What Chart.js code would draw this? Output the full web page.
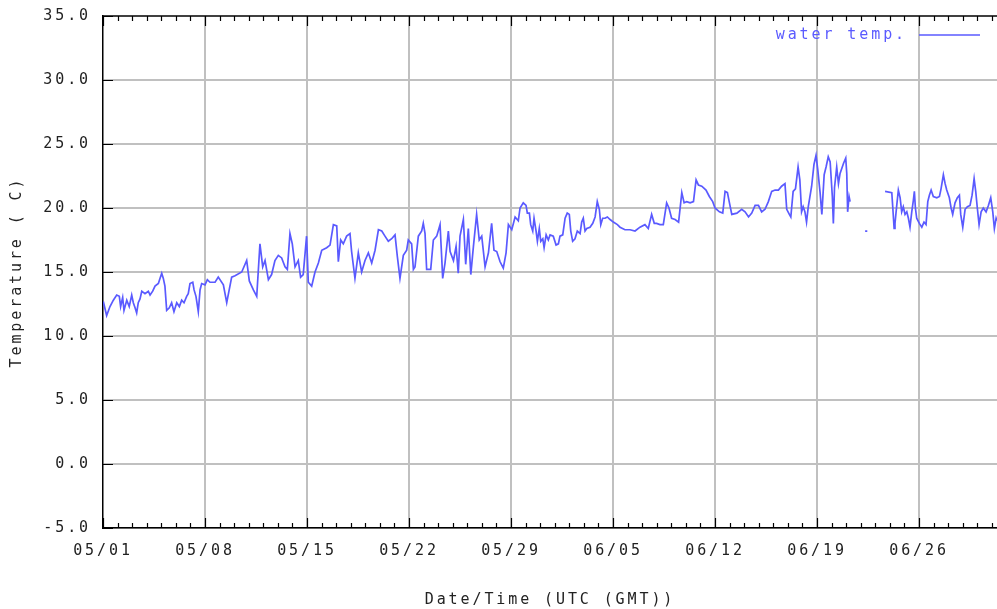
<!DOCTYPE html>
<html>
<head>
<meta charset="utf-8">
<script src="https://cdn.jsdelivr.net/npm/chart.js@4.4.1/dist/chart.umd.min.js"></script>
<style>
  html, body { margin: 0; padding: 0; background: #fff; }
  #wrap { width: 997px; height: 609px; }
</style>
</head>
<body>
<div id="wrap"><canvas id="tempChart" width="997" height="609"></canvas></div>
<script>
// days since 05/01 00:00 UTC; a null temp marks a gap in the record
const days = [
  0.02, 0.25, 0.48, 0.71, 0.94, 1.12, 1.21, 1.35, 1.44, 1.63, 1.8, 1.97, 2.08, 2.2, 2.31, 2.42, 2.54, 2.66, 2.88, 3.11,
  3.23, 3.41, 3.57, 3.8, 3.91, 4.03, 4.14, 4.25, 4.37, 4.55, 4.71, 4.87, 5.06, 5.24, 5.4, 5.56, 5.74, 5.85, 5.97, 6.16,
  6.25, 6.38, 6.54, 6.66, 6.77, 7.0, 7.16, 7.34,
  7.69, 7.91, 8.26, 8.49, 8.83, 9.06, 9.52, 9.86, 10.04, 10.32, 10.55, 10.77, 10.96, 11.12, 11.35, 11.57, 11.8, 12.03, 12.26, 12.49,
  12.65, 12.83, 12.99, 13.18, 13.4, 13.56, 13.74, 13.97, 14.09, 14.32, 14.55, 14.78, 15.01, 15.35, 15.58, 15.81, 16.04, 16.15, 16.31, 16.49,
  16.72, 16.95, 17.06, 17.29, 17.52, 17.75, 17.98, 18.21, 18.44, 18.67, 18.9, 19.13, 19.35, 19.58, 19.81, 20.04, 20.2, 20.38, 20.61, 20.84,
  20.95, 21.18, 21.3, 21.41, 21.64, 21.87, 21.98, 22.1, 22.21, 22.49, 22.67, 22.9, 23.13, 23.24, 23.31, 23.47, 23.7, 23.82, 24.05, 24.23,
  24.38, 24.5, 24.73, 24.89, 25.07, 25.24, 25.42, 25.64, 25.82, 25.99, 26.22, 26.45, 26.67, 26.83, 27.02, 27.25, 27.47, 27.66, 27.82, 28.05,
  28.28, 28.5,
  28.62, 28.84, 29.03, 29.12, 29.26, 29.35, 29.49, 29.58, 29.72, 29.81, 29.94, 30.04, 30.18, 30.27, 30.41, 30.56, 30.68, 30.9, 31.09, 31.25,
  31.36, 31.55, 31.71, 31.86, 32.0, 32.1, 32.23, 32.39, 32.55, 32.74, 32.85, 32.96, 33.08, 33.2, 33.42, 33.61, 33.77, 33.92, 34.06, 34.16,
  34.29, 34.45, 34.61, 34.8, 35.02, 35.3,
  35.48, 35.82, 36.17, 36.51, 36.85, 37.19, 37.42, 37.65, 37.83, 37.99, 38.22,
  38.45, 38.68, 38.84, 39.02, 39.26, 39.5, 39.72, 39.88, 40.06, 40.29, 40.52, 40.7, 40.86, 41.09, 41.38, 41.61, 41.84, 42.0, 42.3, 42.53,
  42.69, 42.85, 42.99, 43.15, 43.5, 43.83, 44.06, 44.3, 44.52, 44.75, 44.98, 45.2, 45.43, 45.66, 45.89, 46.12, 46.35, 46.57, 46.8, 46.92,
  47.1, 47.2, 47.36, 47.52, 47.7, 47.82, 47.94, 48.05, 48.17, 48.28, 48.4, 48.63, 48.79, 48.93, 49.05, 49.21, 49.33, 49.49, 49.62, 49.77,
  49.9, 50.05, 50.12, 50.2, 50.35, 50.47, 50.58, 50.82, 50.97, 51.04, 51.1, 51.2, 51.27, 51.8, 52.3, 52.45, 53.0,
  53.67, 54.13, 54.2, 54.29, 54.35, 54.47, 54.58, 54.7, 54.81, 54.92, 55.04, 55.16, 55.27, 55.38, 55.5, 55.61, 55.68, 55.75, 55.84, 56.02,
  56.19, 56.34, 56.48, 56.6, 56.71, 56.83, 56.98, 57.22, 57.4, 57.51, 57.67, 57.79, 57.9, 58.08, 58.2, 58.31, 58.47, 58.63, 58.77, 58.86,
  59.0, 59.16, 59.32, 59.5, 59.64, 59.78, 59.89, 60.0, 60.12, 60.26, 60.41, 60.6, 60.76, 60.92, 61.06, 61.17, 61.29, 61.35
];
const temps = [
  12.7, 11.6, 12.3, 12.8, 13.2, 13.1, 12.3, 13.0, 12.0, 12.8, 12.3, 13.2, 12.6, 12.2, 11.8, 12.6, 12.9, 13.5, 13.3, 13.5,
  13.2, 13.5, 13.9, 14.1, 14.5, 14.9, 14.5, 13.9, 12.0, 12.2, 12.6, 11.9, 12.6, 12.3, 12.8, 12.6, 13.1, 13.3, 14.1, 14.2,
  13.6, 13.1, 11.9, 13.6, 14.1, 14.0, 14.4, 14.2,
  14.2, 14.6, 14.0, 12.6, 14.6, 14.7, 15.0, 15.9, 14.3, 13.6, 13.1, 17.2, 15.4, 15.9, 14.4, 14.8, 15.9, 16.3, 16.1, 15.4,
  15.2, 18.0, 17.2, 15.4, 15.9, 14.6, 14.8, 17.8, 14.2, 13.9, 15.0, 15.7, 16.7, 16.9, 17.1, 18.7, 18.6, 15.8, 17.5, 17.2,
  17.8, 18.0, 16.6, 14.5, 16.5, 15.0, 15.9, 16.5, 15.7, 16.7, 18.3, 18.2, 17.8, 17.4, 17.6, 17.9, 16.2, 14.5, 16.3, 16.7,
  17.5, 17.2, 15.2, 15.4, 17.8, 18.2, 18.8, 18.0, 15.2, 15.2, 17.5, 17.8, 18.7, 16.2, 14.5, 15.7, 18.2, 16.6, 15.9, 17.0,
  14.9, 17.8, 19.1, 15.6, 18.4, 14.8, 17.0, 19.5, 17.5, 17.8, 15.4, 16.5, 18.8, 16.7, 16.6, 15.8, 15.3, 16.5, 18.7, 18.3,
  19.3, 19.0,
  20.0, 20.4, 20.2, 19.6, 19.6, 18.7, 18.2, 19.2, 18.2, 17.4, 18.4, 17.4, 17.6, 16.9, 17.9, 17.5, 17.9, 17.8, 17.1, 17.2,
  17.8, 17.9, 19.2, 19.6, 19.5, 18.2, 17.4, 17.6, 18.2, 18.0, 18.9, 19.2, 18.2, 18.4, 18.5, 18.8, 19.3, 20.5, 19.9, 18.7,
  19.2, 19.2, 19.3, 19.1, 18.9, 18.7,
  18.5, 18.3, 18.3, 18.2, 18.5, 18.7, 18.4, 19.5, 18.8, 18.8, 18.7,
  18.7, 20.4, 20.0, 19.2, 19.1, 18.9, 21.2, 20.4, 20.5, 20.4, 20.5, 22.2, 21.8, 21.7, 21.4, 20.9, 20.5, 20.0, 19.7, 19.6,
  21.3, 21.2, 20.4, 19.5, 19.6, 19.9, 19.7, 19.3, 19.6, 20.2, 20.2, 19.7, 19.9, 20.5, 21.3, 21.4, 21.4, 21.7, 21.9, 19.9,
  19.5, 19.3, 21.3, 21.5, 23.2, 22.2, 19.7, 20.1, 19.7, 18.9, 20.1, 21.7, 23.4, 24.1, 23.0, 21.2, 19.5, 22.6, 23.2, 24.0,
  23.6, 20.9, 18.8, 21.6, 23.2, 21.9, 22.7, 23.5, 23.9, 22.7, 19.7, 20.9, 20.5, null, 18.2, 18.2, null,
  21.3, 21.2, 20.0, 18.4, 18.8, 20.2, 21.4, 20.8, 19.7, 20.1, 19.5, 19.7, 19.2, 18.5, 19.7, 20.6, 21.3, 20.0, 19.2, 18.8,
  18.5, 18.9, 18.7, 20.5, 21.0, 21.4, 20.9, 20.8, 20.9, 21.5, 22.6, 21.9, 21.4, 20.8, 20.0, 19.5, 20.4, 20.8, 21.0, 19.5,
  18.5, 19.9, 20.1, 20.2, 21.0, 22.3, 21.3, 20.0, 18.7, 19.7, 20.0, 19.7, 20.2, 20.8, 19.7, 18.4, 19.2, 19.0
];
const yTicks = [-5, 0, 5, 10, 15, 20, 25, 30, 35];
const seriesName = 'water temp.';

const lineColor = '#5a5aff';
const gridColor = '#c0c0c0';
const textColor = '#222';
const fontFamily = '"DejaVu Sans Mono", "Liberation Mono", monospace';
const monoFont = { family: fontFamily, size: 15 };
const letterGap = '2.9px';

function dayLabel(d) {
  const pad = n => (n < 10 ? '0' : '') + n;
  if (d < 31) return '05/' + pad(d + 1);
  if (d < 61) return '06/' + pad(d - 30);
  return '07/' + pad(d - 60);
}

const points = days.map((d, i) => ({ x: d, y: temps[i] }));

// wide pixel-font look
const spacing = {
  id: 'spacing',
  beforeUpdate(chart) { chart.ctx.letterSpacing = letterGap; },
  beforeDraw(chart) { chart.ctx.letterSpacing = letterGap; }
};

// top frame, inward tick marks and the legend (text then line sample)
const frameTicks = {
  id: 'frameTicks',
  afterDraw(chart) {
    const { ctx, chartArea: a, scales } = chart;
    ctx.save();
    ctx.strokeStyle = '#000';
    ctx.lineWidth = 1.5;
    ctx.beginPath();
    ctx.moveTo(a.left, a.top);
    ctx.lineTo(a.right, a.top);
    ctx.stroke();
    ctx.lineWidth = 1.2;
    ctx.beginPath();
    for (let d = 0; d <= 61; d++) {
      const px = Math.round(scales.x.getPixelForValue(d)) + 0.5;
      const len = d % 7 === 0 ? 10 : 5;
      ctx.moveTo(px, a.bottom); ctx.lineTo(px, a.bottom - len);
      ctx.moveTo(px, a.top); ctx.lineTo(px, a.top + len);
    }
    yTicks.forEach(v => {
      const py = Math.round(scales.y.getPixelForValue(v)) + 0.5;
      ctx.moveTo(a.left, py); ctx.lineTo(a.left + 10, py);
    });
    ctx.stroke();

    const ly = a.top + 19;
    ctx.letterSpacing = letterGap;
    ctx.font = '15px ' + fontFamily;
    ctx.fillStyle = lineColor;
    ctx.textAlign = 'right';
    ctx.textBaseline = 'middle';
    ctx.fillText(chart.data.datasets[0].label, a.right - 90, ly);
    ctx.strokeStyle = lineColor;
    ctx.lineWidth = 1.6;
    ctx.beginPath();
    ctx.moveTo(a.right - 78, ly);
    ctx.lineTo(a.right - 17, ly);
    ctx.stroke();
    ctx.restore();
  }
};

new Chart(document.getElementById('tempChart'), {
  type: 'line',
  data: {
    datasets: [{
      label: seriesName,
      data: points,
      borderColor: lineColor,
      backgroundColor: lineColor,
      borderWidth: 1.7,
      pointRadius: 0,
      tension: 0,
      spanGaps: false
    }]
  },
  options: {
    responsive: false,
    animation: false,
    layout: { padding: { left: 5, right: 0, top: 16, bottom: 0 } },
    plugins: {
      tooltip: { enabled: false },
      legend: { display: false }
    },
    scales: {
      x: {
        type: 'linear',
        min: 0,
        max: 61.35,
        afterFit(scale) {
          scale.height = 81;
          scale.paddingLeft = 0;
          scale.paddingRight = 0;
        },
        grid: {
          drawTicks: false,
          lineWidth: 2,
          color: c => (c.tick && c.tick.value > 0 && c.tick.value % 7 === 0 ? gridColor : 'rgba(0,0,0,0)')
        },
        border: { color: '#000', width: 1.5 },
        ticks: {
          stepSize: 1,
          autoSkip: false,
          maxRotation: 0,
          padding: 14,
          color: textColor,
          font: monoFont,
          callback: v => (Number.isInteger(v) && v % 7 === 0 ? dayLabel(v) : '')
        },
        title: {
          display: true,
          text: 'Date/Time (UTC (GMT))',
          color: textColor,
          font: monoFont,
          padding: { top: 0, bottom: 0 }
        }
      },
      y: {
        min: -5,
        max: 35,
        afterFit(scale) {
          scale.width = 98;
          scale.paddingTop = 0;
          scale.paddingBottom = 0;
        },
        grid: {
          drawTicks: false,
          lineWidth: 2,
          color: c => (c.tick && c.tick.value < 35 ? gridColor : 'rgba(0,0,0,0)')
        },
        border: { color: '#000', width: 1.5 },
        ticks: {
          stepSize: 5,
          padding: 12,
          color: textColor,
          font: monoFont,
          callback: v => v.toFixed(1)
        },
        title: {
          display: true,
          text: 'Temperature ( C)',
          color: textColor,
          font: monoFont,
          padding: { top: 3, bottom: 0 }
        }
      }
    }
  },
  plugins: [spacing, frameTicks]
});
</script>
</body>
</html>
